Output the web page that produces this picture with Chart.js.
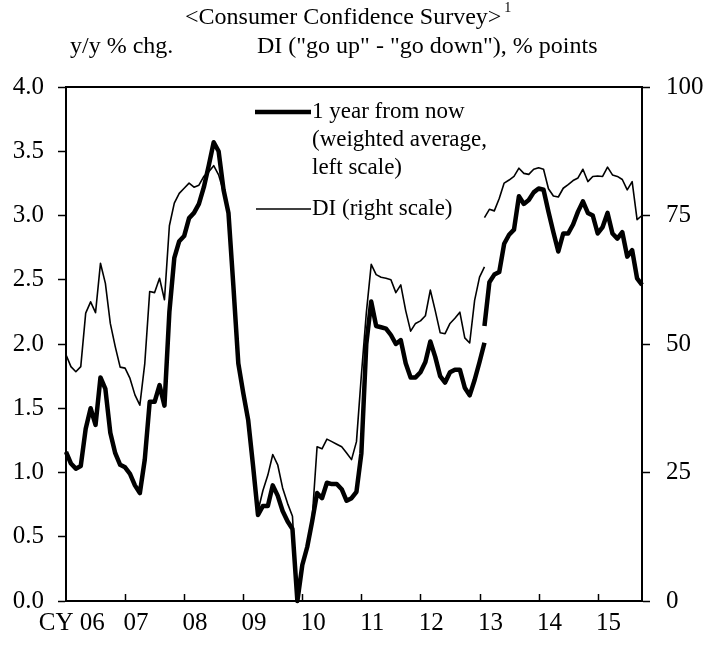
<!DOCTYPE html>
<html>
<head>
<meta charset="utf-8">
<script src="https://cdn.jsdelivr.net/npm/chart.js@4.4.1/dist/chart.umd.min.js"></script>
<style>
  html, body { margin: 0; padding: 0; background: #fff; }
</style>
</head>
<body>
<canvas id="confChart" width="704" height="648"></canvas>
<script>
// calendar years on the x axis (last year has data through October)
const years = ['06', '07', '08', '09', '10', '11', '12', '13', '14', '15'];
const monthsInLastYear = 10;
const leftTicks = ['0.0', '0.5', '1.0', '1.5', '2.0', '2.5', '3.0', '3.5', '4.0'];
const rightTicks = ['0', '25', '50', '75', '100'];

// 1 year from now, weighted average (y/y % chg.), old survey method
const expectOld = [
  1.16, 1.07, 1.03, 1.05, 1.34, 1.50, 1.37, 1.74, 1.65, 1.31,
  1.15, 1.06, 1.04, 0.99, 0.90, 0.84, 1.10, 1.55, 1.55, 1.68,
  1.52, 2.25, 2.67, 2.80, 2.84, 2.98, 3.02, 3.09, 3.22, 3.39,
  3.57, 3.50, 3.20, 3.02, 2.45, 1.85, 1.62, 1.41, 1.05, 0.67,
  0.74, 0.74, 0.90, 0.82, 0.70, 0.62, 0.56, 0.00, 0.28, 0.42,
  0.62, 0.84, 0.80, 0.92, 0.91, 0.91, 0.87, 0.78, 0.80, 0.85,
  1.15, 2.00, 2.33, 2.14, 2.13, 2.12, 2.07, 2.00, 2.03, 1.85,
  1.74, 1.74, 1.78, 1.86, 2.02, 1.90, 1.75, 1.70, 1.78, 1.80,
  1.80, 1.66, 1.60, 1.72, 1.86, 2.01
];
// new survey method, starting at the break
const expectNew = [
  2.14, 2.48, 2.54, 2.56, 2.78, 2.85, 2.89, 3.15, 3.09, 3.12,
  3.18, 3.21, 3.20, 3.03, 2.87, 2.72, 2.86, 2.86, 2.93, 3.03,
  3.11, 3.02, 3.00, 2.86, 2.91, 3.02, 2.86, 2.82, 2.87, 2.68,
  2.73, 2.51, 2.46
];

// DI ("go up" - "go down"), % points
const diOld = [
  47.9, 45.6, 44.6, 45.6, 56.0, 58.2, 56.1, 65.7, 61.8, 54.0,
  49.5, 45.5, 45.3, 43.3, 40.1, 38.1, 46.2, 60.2, 60.0, 62.8,
  58.6, 73.0, 77.4, 79.3, 80.3, 81.3, 80.5, 80.9, 82.6, 83.5,
  84.7, 82.9, 79.6, 75.5, 61.5, 46.5, 41.0, 35.5, 26.5, 17.5,
  21.5, 24.5, 28.5, 26.5, 22.0, 19.0, 16.5, 0.0, 7.0, 11.0,
  16.0, 30.0, 29.6, 31.5, 31.0, 30.5, 30.0, 28.8, 27.5, 31.0,
  44.0, 56.0, 65.5, 63.5, 63.0, 62.8, 62.5, 60.0, 61.5, 56.5,
  52.5, 54.0, 54.5, 55.5, 60.5, 56.5, 52.2, 52.0, 54.0, 55.0,
  56.2, 51.2, 50.2, 58.5, 63.0, 65.0
];
const diNew = [
  74.6, 76.2, 75.9, 78.3, 81.3, 81.9, 82.6, 84.2, 83.2, 83.0,
  84.0, 84.3, 84.0, 80.2, 78.8, 78.6, 80.3, 81.0, 81.8, 82.3,
  84.0, 81.6, 82.6, 82.7, 82.6, 84.4, 82.9, 82.6, 82.0, 80.0,
  81.6, 74.2, 75.0
];

const FONT = '"Liberation Serif", "Times New Roman", serif';

// one label per month
const months = [];
years.forEach((y, i) => {
  const n = i === years.length - 1 ? monthsInLastYear : 12;
  for (let m = 1; m <= n; m++) months.push(y + '/' + m);
});
const breakAt = expectOld.length - 1;  // new series starts at the same month
const pad = (arr, before) => Array(before).fill(null).concat(arr, Array(months.length - before - arr.length).fill(null));

const decorations = {
  id: 'decorations',
  afterDraw(chart) {
    const ctx = chart.ctx;
    const area = chart.chartArea;
    const x = chart.scales.x;
    ctx.save();
    ctx.strokeStyle = '#000';
    ctx.fillStyle = '#000';

    // top frame
    ctx.lineWidth = 2;
    ctx.beginPath();
    ctx.moveTo(area.left - 1, area.top);
    ctx.lineTo(area.right + 1, area.top);
    ctx.stroke();

    // year ticks pointing inward, and year labels
    ctx.lineWidth = 1.5;
    ctx.font = '25px ' + FONT;
    ctx.textBaseline = 'middle';
    ctx.textAlign = 'center';
    years.forEach((y, i) => {
      if (i > 0) {
        const px = Math.round(x.getPixelForValue(i * 12)) + 0.5;
        ctx.beginPath();
        ctx.moveTo(px, area.bottom);
        ctx.lineTo(px, area.bottom - 7);
        ctx.stroke();
      }
      const lx = x.getPixelForValue(i * 12 + 2);
      ctx.fillText(i === 0 ? 'CY 06' : y, i === 0 ? lx - 4 : lx + 1, area.bottom + 22);
    });

    // title
    ctx.font = '24px ' + FONT;
    ctx.textAlign = 'left';
    const title = '<Consumer Confidence Survey>';
    const tw = ctx.measureText(title).width;
    const tx = 185;
    ctx.fillText(title, tx, 18);
    ctx.font = '14px ' + FONT;
    ctx.fillText('1', tx + tw + 3, 8);

    // axis titles
    ctx.font = '24px ' + FONT;
    ctx.fillText('y/y % chg.', 70, 47);
    ctx.fillText('DI ("go up" - "go down"), % points', 257, 47);

    // legend
    ctx.lineWidth = 4.5;
    ctx.beginPath();
    ctx.moveTo(255, 112);
    ctx.lineTo(311, 112);
    ctx.stroke();
    ctx.lineWidth = 1.6;
    ctx.beginPath();
    ctx.moveTo(256, 209);
    ctx.lineTo(311, 209);
    ctx.stroke();
    ctx.font = '23px ' + FONT;
    ctx.fillText('1 year from now', 312, 112);
    ctx.fillText('(weighted average,', 312, 140);
    ctx.fillText('left scale)', 312, 168);
    ctx.fillText('DI (right scale)', 312, 209);
    ctx.restore();
  }
};

const thick = { borderColor: '#000', borderWidth: 4.5, pointRadius: 0, tension: 0, yAxisID: 'yL', clip: false, borderJoinStyle: 'round', spanGaps: false };
const thin = { borderColor: '#000', borderWidth: 1.6, pointRadius: 0, tension: 0, yAxisID: 'yR', clip: false, borderJoinStyle: 'round', spanGaps: false };

new Chart(document.getElementById('confChart').getContext('2d'), {
  type: 'line',
  data: {
    labels: months,
    datasets: [
      Object.assign({ label: 'DI (right scale)', data: pad(diOld, 0) }, thin),
      Object.assign({ label: 'DI new', data: pad(diNew, breakAt) }, thin),
      Object.assign({ label: '1 year from now', data: pad(expectOld, 0) }, thick),
      Object.assign({ label: '1 year new', data: pad(expectNew, breakAt) }, thick)
    ]
  },
  options: {
    responsive: false,
    animation: false,
    devicePixelRatio: 1,
    layout: { padding: { top: 87, left: 0, right: 0, bottom: 0 } },
    plugins: { legend: { display: false }, tooltip: { enabled: false }, title: { display: false } },
    scales: {
      x: {
        type: 'category',
        offset: false,
        grid: { display: false },
        border: { display: true, color: '#000', width: 2 },
        ticks: { display: false },
        afterFit(scale) { scale.height = 47; }
      },
      yL: {
        position: 'left',
        min: 0,
        max: 4,
        afterBuildTicks(scale) { scale.ticks = leftTicks.map(t => ({ value: parseFloat(t) })); },
        ticks: {
          callback: (v, i) => leftTicks[i],
          color: '#000',
          font: { family: FONT, size: 25 },
          padding: 14
        },
        grid: { drawOnChartArea: false, drawTicks: true, tickLength: 8, tickColor: '#000', tickWidth: 1.5 },
        border: { display: true, color: '#000', width: 2 },
        afterFit(scale) { scale.width = 66; }
      },
      yR: {
        position: 'right',
        min: 0,
        max: 100,
        afterBuildTicks(scale) { scale.ticks = rightTicks.map(t => ({ value: parseFloat(t) })); },
        ticks: {
          callback: (v, i) => rightTicks[i],
          color: '#000',
          font: { family: FONT, size: 25 },
          padding: 16
        },
        grid: { drawOnChartArea: false, drawTicks: true, tickLength: 8, tickColor: '#000', tickWidth: 1.5 },
        border: { display: true, color: '#000', width: 2 },
        afterFit(scale) { scale.width = 62; }
      }
    }
  },
  plugins: [decorations]
});
</script>
</body>
</html>
